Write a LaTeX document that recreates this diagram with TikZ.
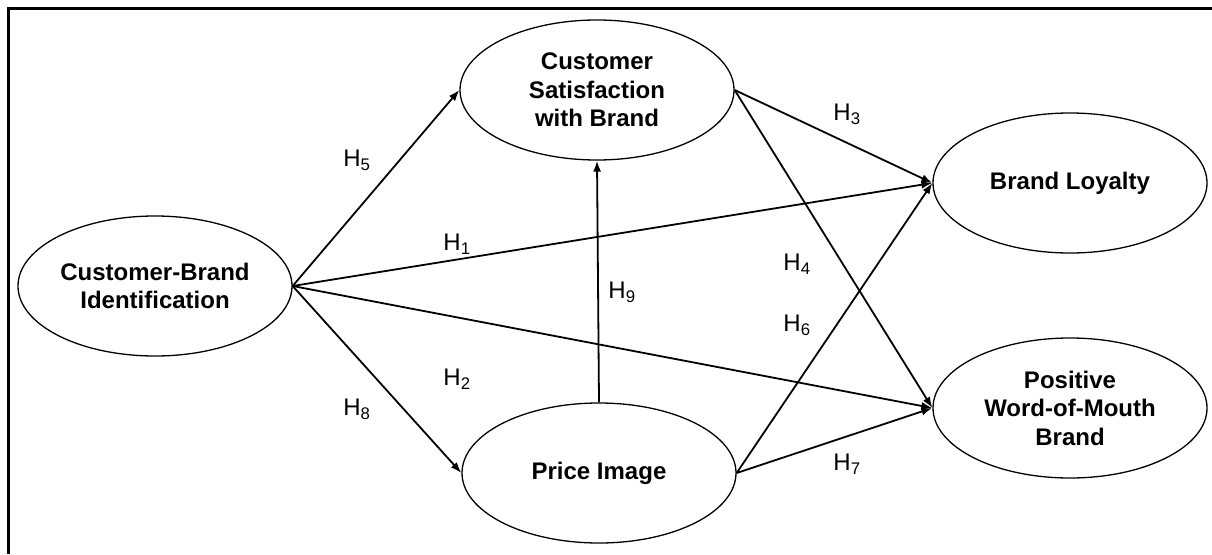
\documentclass[tikz,border=0pt]{standalone}
\usepackage{fontspec}
\setmainfont{Liberation Sans}
\usetikzlibrary{arrows.meta,shapes.geometric}
\begin{document}
\begin{tikzpicture}[x=1pt,y=-1pt,
  construct/.style={ellipse,draw,line width=1.3pt,minimum width=274pt,minimum height=140pt,inner sep=0pt,
    align=center,font=\fontsize{24}{28.5}\selectfont\bfseries},
  path/.style={line width=1.8pt,-{Latex[length=11pt,width=8pt]}},
  hyp/.style={font=\fontsize{24}{28}\selectfont,inner sep=0pt}]
\useasboundingbox (0,0) rectangle (1212,554);
\draw[line width=3pt] (8,554) -- (8,8) -- (1212,8);
\node[construct] (cbi) at (155,286) {Customer-Brand\\Identification};
\node[construct] (sat) at (597,90) {Customer\\Satisfaction\\with Brand};
\node[construct] (pri) at (599,473) {Price Image};
\node[construct] (loy) at (1070,183) {Brand Loyalty};
\node[construct] (wom) at (1070,408) {Positive\\Word-of-Mouth\\Brand};
\draw[path] (cbi.east) -- (sat.west);
\draw[path] (cbi.east) -- (pri.west);
\draw[path] (cbi.east) -- (loy.west);
\draw[path] (cbi.east) -- (wom.west);
\draw[path] (sat.east) -- (loy.west);
\draw[path] (sat.east) -- (wom.west);
\draw[path] (pri.east) -- (loy.west);
\draw[path] (pri.east) -- (wom.west);
\draw[path] (pri.north) -- (sat.south);
\node[hyp] (h5) at (357,160) {H\textsubscript{5}};
\node[hyp] (h1) at (457,244) {H\textsubscript{1}};
\node[hyp] (h2) at (457,379) {H\textsubscript{2}};
\node[hyp] (h8) at (357,409) {H\textsubscript{8}};
\node[hyp] (h9) at (622,292) {H\textsubscript{9}};
\node[hyp] (h3) at (847,114) {H\textsubscript{3}};
\node[hyp] (h4) at (797,264) {H\textsubscript{4}};
\node[hyp] (h6) at (797,325) {H\textsubscript{6}};
\node[hyp] (h7) at (847,464) {H\textsubscript{7}};
\end{tikzpicture}
\end{document}
